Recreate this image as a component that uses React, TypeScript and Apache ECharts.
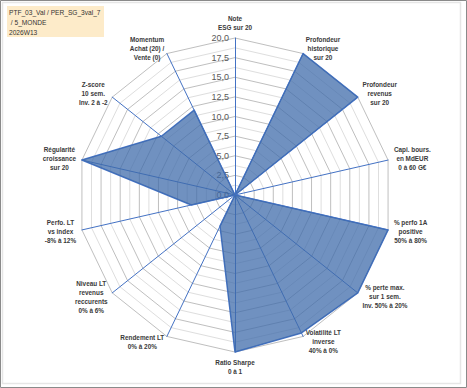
import React, { useEffect, useRef } from "react";
import * as echarts from "echarts";

const indicatorNames: string[] = [
  "Note\nESG sur 20",
  "Profondeur\nhistorique\nsur 20",
  "Profondeur\nrevenus\nsur 20",
  "Capi. bours.\nen MdEUR\n0 à 60 G€",
  "% perfo 1A\npositive\n50% à 80%",
  "% perte max.\nsur 1 sem.\nInv. 50% à 20%",
  "Volatilité LT\ninverse\n40% à 0%",
  "Ratio Sharpe\n0 à 1",
  "Rendement LT\n0% à 20%",
  "Niveau LT\nrevenus\nreccurents\n0% à 6%",
  "Perfo. LT\nvs index\n-8% à 12%",
  "Régularité\ncroissance\nsur 20",
  "Z-score\n10 sem.\nInv. 2 à -2",
  "Momentum\nAchat (20) /\nVente (0)",
];

const scores: number[] = [0, 20, 20, 0, 20, 20, 19.5, 20, 4.4, 0, 5.7, 20, 12, 12];

const axisMin = 0;
const axisMax = 20;
const axisSplits = 16;
const labelStep = 2.5;

const titleLines: string[] = ["PTF_03_Val / PER_SG_3val_7", " / 5_MONDE", "2026W13"];

// ECharts radar runs counter-clockwise; Excel runs clockwise -> reorder
const order = indicatorNames.map((_, i) => (i === 0 ? 0 : indicatorNames.length - i));

export default function App() {
  const ref = useRef<HTMLDivElement>(null);
  useEffect(() => {
    if (!ref.current) return;
    const chart = echarts.init(ref.current, null, { renderer: "svg" });
    const font = "'Liberation Sans', Arial, sans-serif";
    const indicator = order.map((idx, k) => {
      const ind: any = { name: indicatorNames[idx], min: axisMin, max: axisMax };
      if (k === 0) {
        ind.axisLabel = {
          show: true,
          fontSize: 9,
          color: "#595959",
          fontFamily: font,
          margin: 6,
          formatter: (v: number) =>
            Math.abs(v / labelStep - Math.round(v / labelStep)) < 1e-6
              ? v.toFixed(1).replace(".", ",")
              : "",
        };
      }
      return ind;
    });
    chart.setOption({
      animation: false,
      backgroundColor: "#ffffff",
      radar: {
        center: [235, 195],
        radius: 157,
        startAngle: 90,
        shape: "polygon",
        splitNumber: axisSplits,
        indicator,
        nameGap: 6,
        axisName: {
          formatter: (name: string) =>
            name
              .split("\n")
              .map((l) => "{c|" + l + "}")
              .join("\n"),
          rich: {
            c: {
              align: "center",
              fontSize: 6.4,
              fontWeight: "bold",
              lineHeight: 9,
              color: "#3a3a3a",
              fontFamily: font,
            },
          },
        },
        axisLine: { show: true, lineStyle: { color: "#4472c4", width: 1 } },
        axisTick: { show: false },
        axisLabel: { show: false },
        splitLine: { show: true, lineStyle: { color: ["#bfbfbf", "#dedede"], width: 1 } },
        splitArea: { show: false },
      },
      series: [
        {
          type: "radar",
          symbol: "none",
          lineStyle: { color: "#4472c4", width: 1.5 },
          areaStyle: { color: "rgb(62,106,170)", opacity: 0.74 },
          data: [{ value: order.map((idx) => scores[idx]) }],
        },
      ],
      graphic: [
        {
          type: "rect",
          shape: { x: 0.5, y: 0.5, width: 466, height: 387 },
          style: { fill: "none", stroke: "#8a8a8a", lineWidth: 1 },
          silent: true,
        },
        {
          type: "rect",
          shape: { x: 2.5, y: 2.5, width: 458, height: 381 },
          style: { fill: "none", stroke: "#e6e6e6", lineWidth: 1.5 },
          silent: true,
        },
        {
          type: "rect",
          shape: { x: 7, y: 6, width: 97, height: 31 },
          style: { fill: "#fdebc9" },
          silent: true,
        },
        {
          type: "text",
          x: 9,
          y: 7,
          style: {
            text: titleLines.join("\n"),
            fontSize: 6.6,
            lineHeight: 10.3,
            fill: "#333333",
            fontFamily: font,
          },
          silent: true,
        },
      ],
    });
    return () => chart.dispose();
  }, []);
  return (
    <div
      ref={ref}
      style={{ position: "fixed", left: 0, top: 0, width: 467, height: 388 }}
    />
  );
}
